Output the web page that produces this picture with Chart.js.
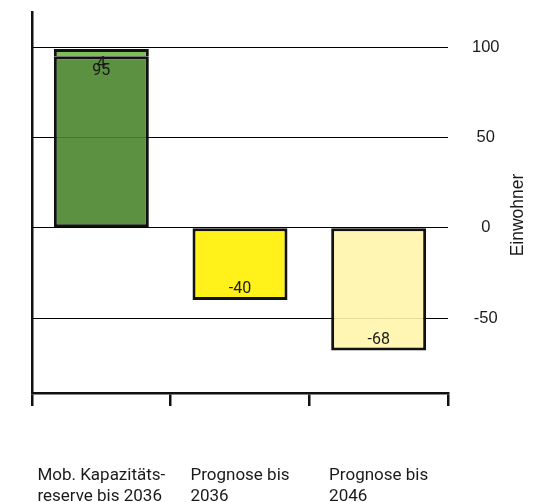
<!DOCTYPE html>
<html lang="de">
<head>
<meta charset="utf-8">
<title>Einwohner – Kapazitätsreserve und Prognose</title>
<script src="https://cdn.jsdelivr.net/npm/chart.js@4/dist/chart.umd.min.js"></script>
<style>
  html, body { margin: 0; padding: 0; background: #fff; }
  #wrap { width: 539px; height: 502px; position: relative; }
</style>
</head>
<body>
<div id="wrap"><canvas id="chart"></canvas></div>
<script>
// Categories (wrapped over two lines)
const categories = [
  ['Mob. Kapazitäts-', 'reserve bis 2036'],
  ['Prognose bis', '2036'],
  ['Prognose bis', '2046']
];
// Main values per category
const mainValues = [95, -40, -68];
// Additional stacked segment (only on the first category)
const extraValues = [4, null, null];
// Y axis tick labels
const yTicks = [-50, 0, 50, 100];
const yTitle = 'Einwohner';

const mainColors = ['rgba(73,133,43,0.9)', 'rgba(255,240,0,0.9)', 'rgba(255,245,172,0.9)'];
const extraColor = 'rgba(118,188,76,0.95)';
const ink = '#1a1a1a';

// Value labels placed just inside the outer end of each bar segment
const valueLabels = {
  id: 'valueLabels',
  afterDatasetsDraw(chart) {
    const ctx = chart.ctx;
    ctx.save();
    ctx.font = '16px Roboto';
    ctx.fillStyle = ink;
    ctx.textAlign = 'center';
    ctx.textBaseline = 'middle';
    chart.data.datasets.forEach((ds, di) => {
      const meta = chart.getDatasetMeta(di);
      meta.data.forEach((bar, i) => {
        const v = ds.data[i];
        if (v === null || v === undefined) return;
        const y = v >= 0 ? bar.y + 15 : bar.y - 11;
        ctx.fillText(String(v), bar.x, y);
      });
    });
    ctx.restore();
  }
};

// Category labels below the axis: left-aligned lines in a block centred on the category
const categoryLabels = {
  id: 'categoryLabels',
  afterDraw(chart) {
    const ctx = chart.ctx;
    const xs = chart.scales.x;
    ctx.save();
    ctx.font = '17px Roboto';
    ctx.fillStyle = ink;
    ctx.textAlign = 'left';
    ctx.textBaseline = 'alphabetic';
    categories.forEach((lines, i) => {
      const cx = xs.getPixelForValue(i);
      const w = Math.max(...lines.map(l => ctx.measureText(l).width));
      const x0 = cx - w / 2;
      lines.forEach((l, k) => ctx.fillText(l, x0, 480 + k * 21));
    });
    // rotated axis title on the right
    ctx.font = '17.5px "Liberation Sans", Arial, sans-serif';
    ctx.textAlign = 'center';
    ctx.textBaseline = 'middle';
    ctx.translate(518, 215);
    ctx.rotate(-Math.PI / 2);
    ctx.fillText(yTitle, 0, 0);
    ctx.restore();
  }
};

new Chart(document.getElementById('chart'), {
  type: 'bar',
  data: {
    labels: categories,
    datasets: [
      {
        data: mainValues,
        backgroundColor: mainColors,
        borderColor: '#111',
        borderWidth: 3,
        borderSkipped: false,
        barPercentage: 0.685,
        categoryPercentage: 1
      },
      {
        data: extraValues,
        backgroundColor: extraColor,
        borderColor: '#111',
        borderWidth: 3,
        // the segment sits on the main bar, which already draws the dividing line
        borderSkipped: 'start',
        barPercentage: 0.685,
        categoryPercentage: 1
      }
    ]
  },
  options: {
    responsive: true,
    maintainAspectRatio: false,
    animation: false,
    layout: { padding: { top: 12, right: 0, bottom: 0, left: 0 } },
    plugins: {
      legend: { display: false },
      tooltip: { enabled: false },
      title: { display: false }
    },
    scales: {
      x: {
        stacked: true,
        position: 'bottom',
        grid: {
          offset: true,
          drawOnChartArea: false,
          drawTicks: true,
          tickLength: 13,
          color: '#111',
          lineWidth: 2.5
        },
        border: { display: true, color: '#111', width: 2.5 },
        ticks: { display: false },
        afterFit(s) { s.height = 109; s.paddingLeft = 0; s.paddingRight = 0; }
      },
      y: {
        stacked: true,
        position: 'right',
        min: -91.5,
        max: 119.5,
        afterBuildTicks(s) { s.ticks = yTicks.map(v => ({ value: v })); },
        grid: { color: '#000', lineWidth: 1, drawTicks: false },
        border: { display: false },
        ticks: {
          padding: 24,
          crossAlign: 'center',
          color: ink,
          font: { family: '"Liberation Sans", Arial, sans-serif', size: 16.5 }
        },
        afterFit(s) { s.width = 91; s.paddingTop = 0; s.paddingBottom = 0; }
      },
      yLeft: {
        position: 'left',
        min: -91.5,
        max: 119.5,
        grid: { drawOnChartArea: false, drawTicks: false },
        border: { display: true, color: '#111', width: 2.5 },
        ticks: { display: false },
        afterFit(s) { s.width = 32; s.paddingTop = 0; s.paddingBottom = 0; }
      }
    }
  },
  plugins: [valueLabels, categoryLabels]
});
</script>
</body>
</html>
